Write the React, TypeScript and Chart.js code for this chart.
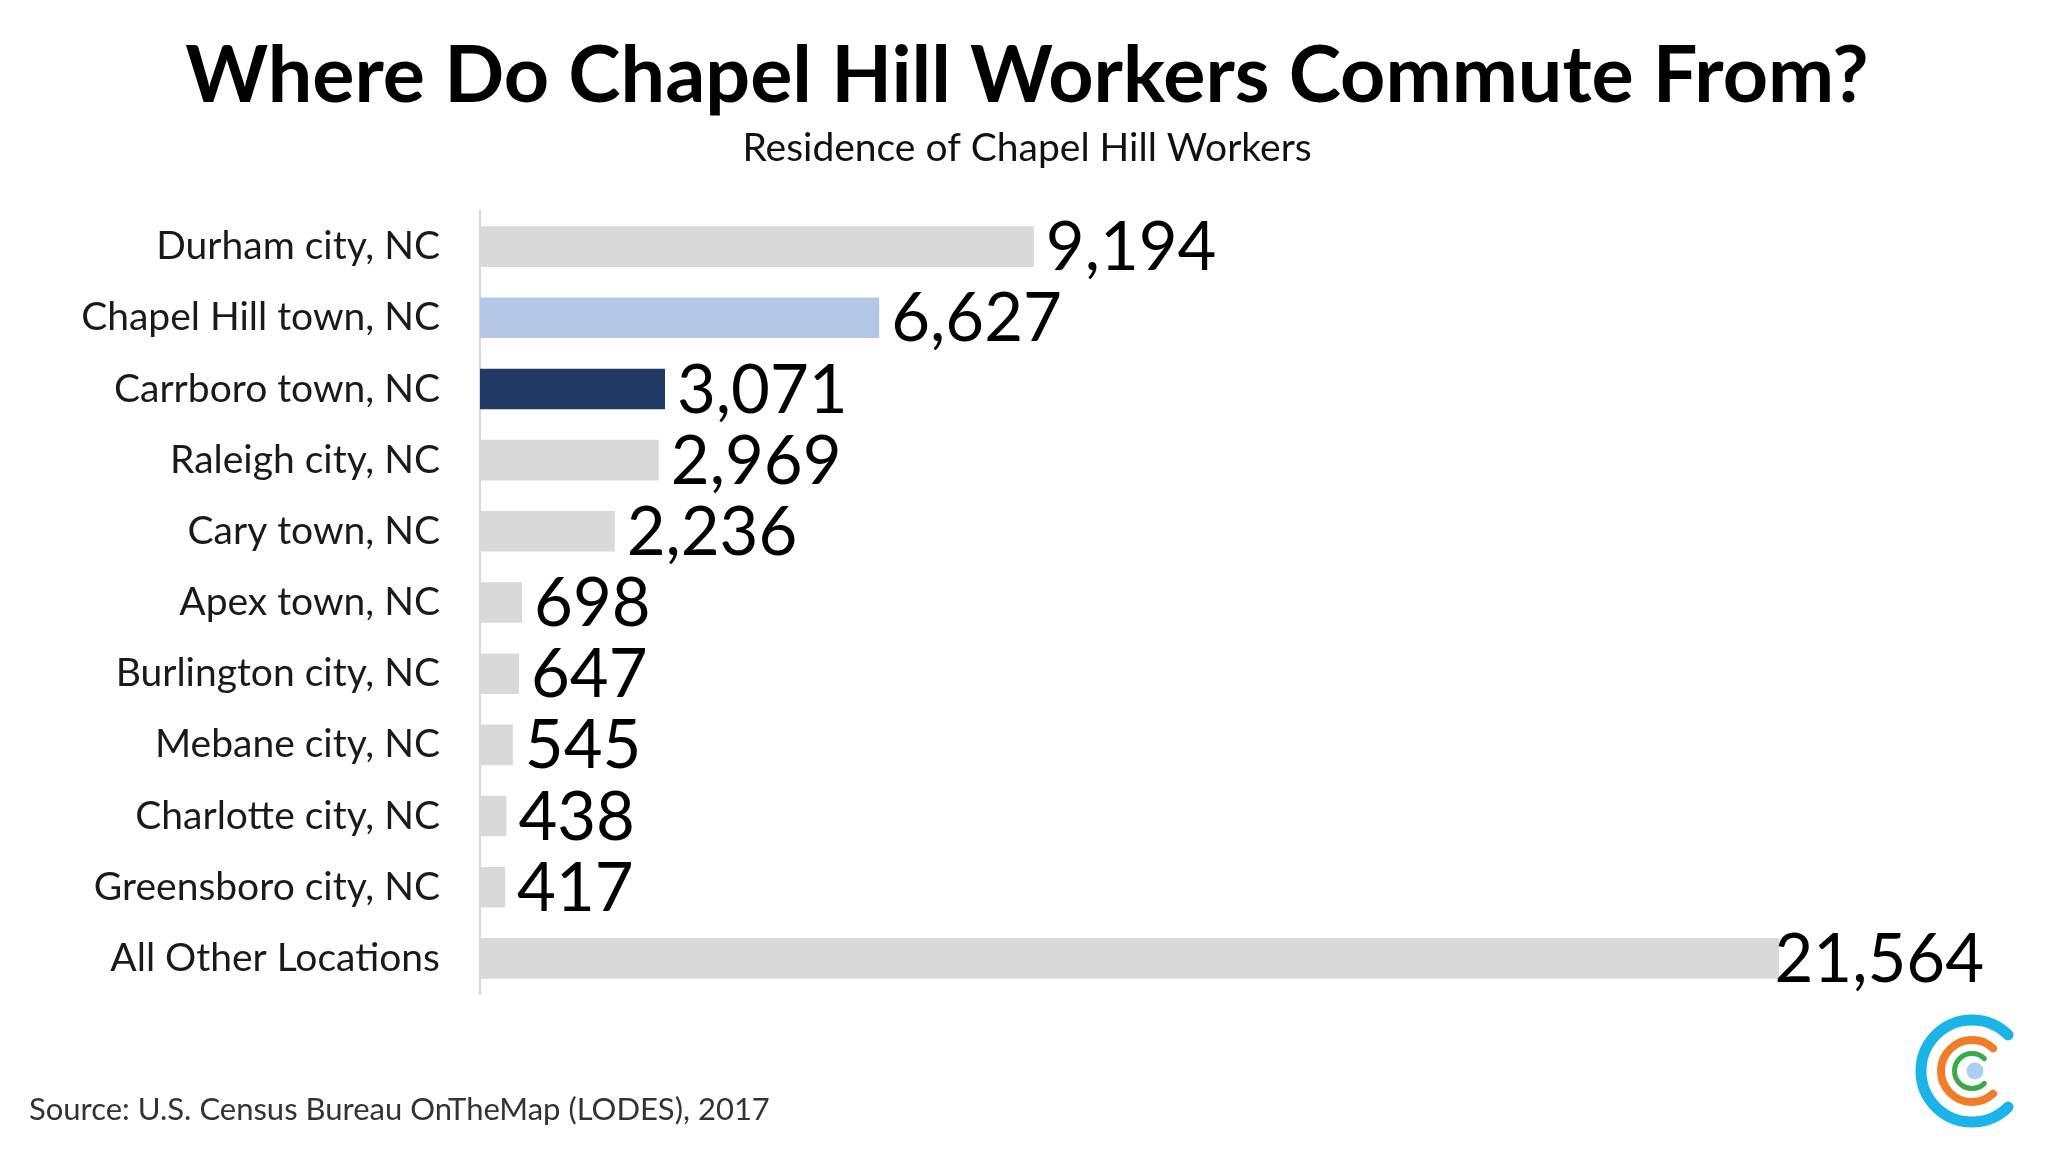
import React, { useEffect, useRef } from "react";
import { Chart, registerables } from "chart.js";

Chart.register(...registerables);

const categories: string[] = [
  "Durham city, NC",
  "Chapel Hill town, NC",
  "Carrboro town, NC",
  "Raleigh city, NC",
  "Cary town, NC",
  "Apex town, NC",
  "Burlington city, NC",
  "Mebane city, NC",
  "Charlotte city, NC",
  "Greensboro city, NC",
  "All Other Locations",
];

const workers: number[] = [9194, 6627, 3071, 2969, 2236, 698, 647, 545, 438, 417, 21564];

const barColors: string[] = [
  "#d9d9d9",
  "#b4c7e7",
  "#1f3864",
  "#d9d9d9",
  "#d9d9d9",
  "#d9d9d9",
  "#d9d9d9",
  "#d9d9d9",
  "#d9d9d9",
  "#d9d9d9",
  "#d9d9d9",
];

const titleText = "Where Do Chapel Hill Workers Commute From?";
const subtitleText = "Residence of Chapel Hill Workers";
const sourceText = "Source: U.S. Census Bureau OnTheMap (LODES), 2017";

const FONT = "Lato, 'Open Sans', sans-serif";
const W = 2048;
const H = 1152;

const decorPlugin = {
  id: "decor",
  beforeDraw(chart: any) {
    const ctx = chart.ctx;
    ctx.save();
    ctx.fillStyle = "#ffffff";
    ctx.fillRect(0, 0, chart.width, chart.height);
    ctx.restore();
  },
  afterDraw(chart: any) {
    const ctx = chart.ctx;
    ctx.save();
    // title
    ctx.fillStyle = "#000000";
    ctx.textAlign = "center";
    ctx.textBaseline = "alphabetic";
    ctx.font = `bold 79px ${FONT}`;
    ctx.fillText(titleText, 1027, 102);
    // subtitle
    ctx.font = `39px ${FONT}`;
    ctx.fillStyle = "#111111";
    ctx.fillText(subtitleText, 1027, 161);
    // source
    ctx.textAlign = "left";
    ctx.font = `31px ${FONT}`;
    ctx.fillStyle = "#333333";
    ctx.fillText(sourceText, 29, 1120);

    // logo
    const cx = 1972;
    const cy = 1071;
    const arc = (r: number, w: number, color: string, a: number) => {
      ctx.beginPath();
      ctx.strokeStyle = color;
      ctx.lineWidth = w;
      ctx.lineCap = "round";
      ctx.arc(cx, cy, r, (a * Math.PI) / 180, ((360 - a) * Math.PI) / 180);
      ctx.stroke();
    };
    arc(51, 11, "#1ab4e8", 45);
    arc(31, 8, "#f07d2a", 47);
    arc(17.5, 5, "#3baa4a", 45);
    ctx.beginPath();
    ctx.fillStyle = "#a9d0f0";
    ctx.arc(cx + 3, cy, 8.5, 0, Math.PI * 2);
    ctx.fill();
    ctx.restore();
  },
};

const valueLabelPlugin = {
  id: "valueLabels",
  afterDatasetsDraw(chart: any) {
    const ctx = chart.ctx;
    const meta = chart.getDatasetMeta(0);
    const data = chart.data.datasets[0].data as number[];
    ctx.save();
    ctx.font = `67px ${FONT}`;
    ctx.fillStyle = "#000000";
    ctx.textAlign = "left";
    ctx.textBaseline = "middle";
    meta.data.forEach((bar: any, i: number) => {
      const label = data[i].toLocaleString("en-US");
      const tw = ctx.measureText(label).width;
      let x = bar.x + 12;
      const maxX = chart.width - 64 - tw;
      if (x > maxX) x = maxX;
      ctx.fillText(label, x, bar.y + 2);
    });
    ctx.restore();
  },
};

export default function App() {
  const canvasRef = useRef<HTMLCanvasElement | null>(null);

  useEffect(() => {
    document.body.style.margin = "0";
    const canvas = canvasRef.current;
    if (!canvas) return;
    const chart = new Chart(canvas, {
      type: "bar",
      data: {
        labels: categories,
        datasets: [
          {
            data: workers,
            backgroundColor: barColors,
            borderWidth: 0,
            barPercentage: 0.57,
            categoryPercentage: 1,
          },
        ],
      },
      options: {
        indexAxis: "y",
        animation: false,
        responsive: false,
        devicePixelRatio: 1,
        layout: { padding: { top: 211, bottom: 158, left: 0, right: 50 } },
        plugins: {
          legend: { display: false },
          title: { display: false },
          tooltip: { enabled: false },
        },
        scales: {
          x: {
            display: false,
            min: 0,
            max: 25200,
          },
          y: {
            afterFit(scale: any) {
              scale.width = 480;
            },
            grid: { display: false, drawTicks: false },
            border: { display: true, color: "#d9d9d9", width: 2 },
            ticks: {
              color: "#1a1a1a",
              padding: 40,
              font: { family: FONT, size: 39 },
            },
          },
        },
      },
      plugins: [decorPlugin, valueLabelPlugin],
    });
    return () => chart.destroy();
  }, []);

  return (
    <div style={{ position: "fixed", left: 0, top: 0, width: W, height: H, background: "#fff" }}>
      <canvas ref={canvasRef} width={W} height={H} style={{ width: W, height: H, display: "block" }} />
    </div>
  );
}
